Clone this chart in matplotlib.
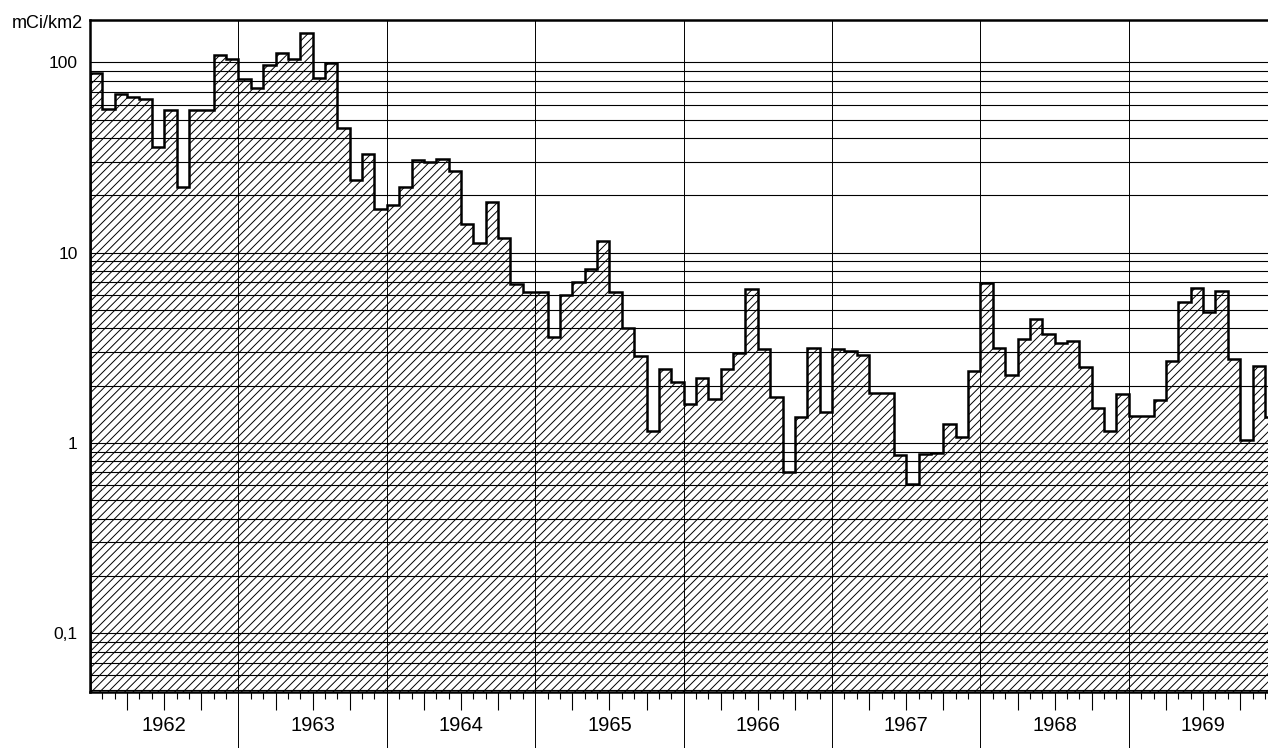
import numpy as np
import matplotlib
matplotlib.use("Agg")
import matplotlib.pyplot as plt
from matplotlib.ticker import FixedLocator, LogLocator, NullFormatter

plt.rcParams['font.family'] = ['Liberation Sans', 'DejaVu Sans']
plt.rcParams['hatch.linewidth'] = 0.7

# monthly deposition values (mCi/km2)
years = [1962, 1963, 1964, 1965, 1966, 1967, 1968, 1969]
vals_1962 = [88, 57, 68, 66, 64, 36, 56, 22, 56, 56, 109, 104]
vals_1963 = [82, 73, 97, 112, 104, 142, 83, 99, 45, 24, 33, 17]
vals_1964 = [17.7, 22, 30.5, 30, 31, 27, 14.2, 11.3, 18.4, 12, 6.8, 6.2]
vals_1965 = [6.2, 3.6, 6.0, 7.0, 8.2, 11.5, 6.2, 4.0, 2.85, 1.16, 2.43, 2.1]
vals_1966 = [1.6, 2.2, 1.7, 2.45, 2.95, 6.4, 3.1, 1.75, 0.7, 1.37, 3.15, 1.45]
vals_1967 = [3.1, 3.05, 2.9, 1.82, 1.82, 0.86, 0.61, 0.87, 0.88, 1.26, 1.07, 2.4]
vals_1968 = [6.95, 3.15, 2.28, 3.5, 4.45, 3.75, 3.35, 3.45, 2.5, 1.53, 1.15, 1.8]
vals_1969 = [1.39, 1.39, 1.68, 2.7, 5.5, 6.5, 4.85, 6.3, 2.75, 1.03, 2.52, 1.37]

values = np.array(vals_1962 + vals_1963 + vals_1964 + vals_1965 +
                  vals_1966 + vals_1967 + vals_1968 + vals_1969)
edges = np.arange(len(values) + 1)

y_bottom, y_top = 0.049, 167

fig = plt.figure(figsize=(12.68, 7.48), dpi=100)
ax = fig.add_axes([90 / 1268, 1 - 692 / 748, 1 - 90 / 1268, (692 - 20) / 748])
ax.set_yscale('log')
ax.set_ylim(y_bottom, y_top)
ax.set_xlim(0, 95.25)

# horizontal grid at every log tick
ax.yaxis.set_major_locator(FixedLocator([0.1, 1, 10, 100]))
ax.yaxis.set_minor_locator(LogLocator(base=10, subs=np.arange(2, 10)))
ax.yaxis.set_minor_formatter(NullFormatter())
ax.set_yticklabels(['0,1', '1', '10', '100'])
ax.grid(True, which='both', axis='y', color='black', linewidth=0.8, zorder=1)
ax.tick_params(axis='y', which='both', length=0, pad=9, labelsize=12.5)

# hatched area and step outline
ax.fill_between(edges, np.append(values, values[-1]), y_bottom, step='post',
                facecolor='none', edgecolor='black', hatch='////', linewidth=0, zorder=2)
ax.stairs(values, edges, color='black', linewidth=1.8, zorder=3)

# year separators, running down through the label band
year_pos = np.arange(0, 12 * len(years) + 1, 12)
ax.vlines(year_pos[1:], -0.085, 1, transform=ax.get_xaxis_transform(),
          color='black', linewidth=0.7, clip_on=False, zorder=1)

# month ticks, longer at quarters
ax.xaxis.set_major_locator(FixedLocator([m for m in range(96) if m % 3 == 0 and m % 12 != 0]))
ax.xaxis.set_minor_locator(FixedLocator([m for m in range(96) if m % 3 != 0]))
ax.tick_params(axis='x', which='major', direction='out', length=13, width=0.8, labelbottom=False)
ax.tick_params(axis='x', which='minor', direction='out', length=5, width=0.8)

for i, yr in enumerate(years):
    ax.text(i * 12 + 6, -0.05, str(yr), transform=ax.get_xaxis_transform(),
            ha='center', va='center', fontsize=14.5)

ax.text(-0.006, 0.995, 'mCi/km2', transform=ax.transAxes, ha='right', va='center', fontsize=13)

ax.spines['right'].set_visible(False)
for s in ['left', 'top', 'bottom']:
    ax.spines[s].set_linewidth(1.8)

fig.savefig('out.png', dpi=100)
